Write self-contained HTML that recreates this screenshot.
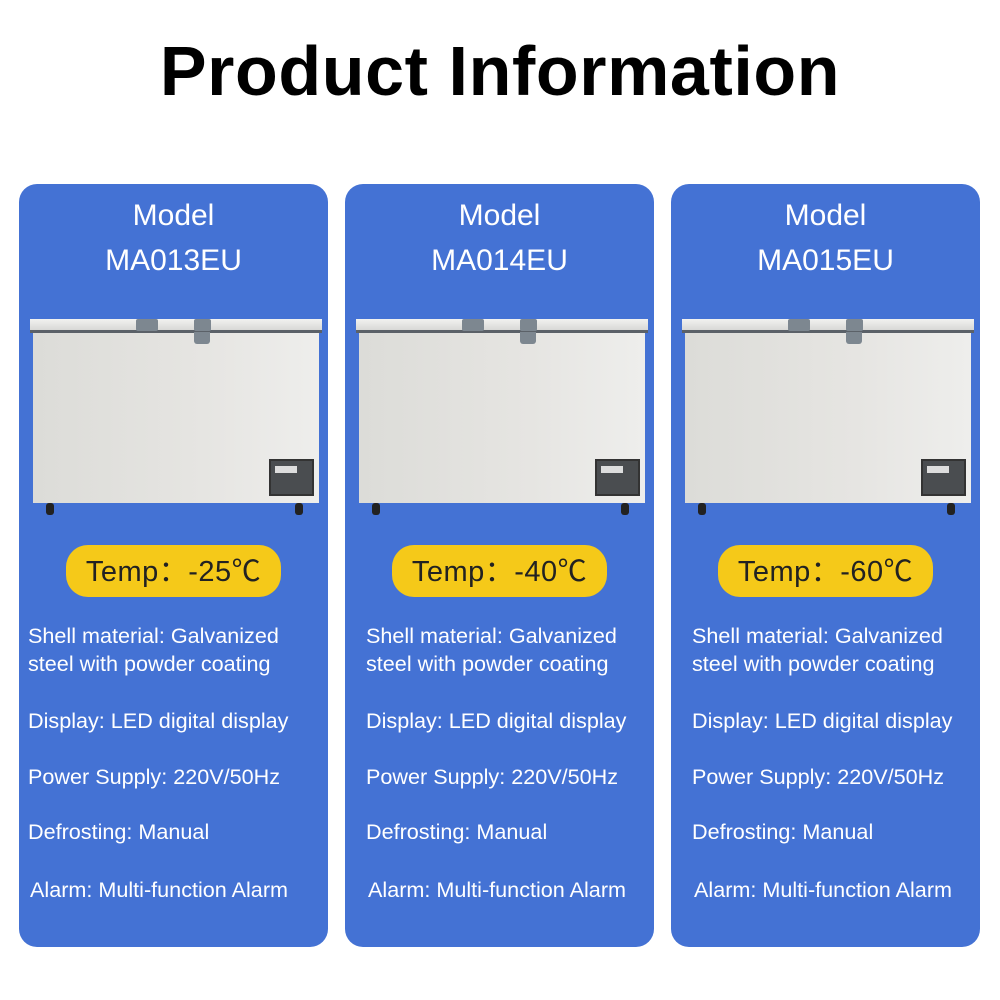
<!DOCTYPE html>
<html><head><style>
body{margin:0;width:1000px;height:1000px;background:#fff;font-family:"Liberation Sans",Arial,sans-serif;position:relative;overflow:hidden}
h1{position:absolute;top:31px;left:0;width:1000px;text-align:center;margin:0;font-size:70px;font-weight:bold;color:#000;letter-spacing:0.6px}
.p{position:absolute;top:184px;width:309px;height:763px;background:#4472d4;border-radius:18px;color:#fff}
.t{position:absolute;width:100%;text-align:center;font-size:30px}
.fz{position:absolute;left:11px;top:135px;width:292px;height:196px}
.lid{position:absolute;left:0;top:0;width:292px;height:14px;background:linear-gradient(#f2f2f0,#d8d8d6);border-bottom:3px solid #5b6168;box-sizing:border-box}
.body{position:absolute;left:3px;top:14px;width:286px;height:170px;background:linear-gradient(90deg,#dcdcd8,#e6e5e2 60%,#eeeeec)}
.h{position:absolute;top:0;height:12px;background:#7d8790;border-radius:2px}
.lock{position:absolute;left:164px;top:13px;width:16px;height:12px;background:#7d8790;border-radius:0 0 3px 3px}
.cp{position:absolute;left:239px;top:140px;width:41px;height:33px;background:#4a4d50;border:2px solid #333}
.cp i{position:absolute;left:4px;top:5px;width:22px;height:7px;background:#ddd}
.w{position:absolute;top:184px;width:8px;height:12px;background:#222;border-radius:3px}
.b{position:absolute;left:47px;top:361px;width:215px;height:52px;background:#f5c919;border-radius:22px;color:#222;font-size:29px;text-align:center;line-height:54px;font-family:"Liberation Sans","Noto Sans CJK SC",sans-serif;letter-spacing:0.5px}
.s{position:absolute;font-size:21.6px;line-height:28px;white-space:nowrap}
</style></head><body>
<h1>Product Information</h1>

<div class="p" style="left:19px">
<div class="t" style="top:15px">Model</div><div class="t" style="top:60px">MA013EU</div>
<div class="fz"><div class="lid"></div><div class="body"></div><div class="h" style="left:106px;width:22px"></div><div class="h" style="left:164px;width:17px"></div><div class="lock"></div><div class="cp"><i></i></div><div class="w" style="left:16px"></div><div class="w" style="left:265px"></div></div>
<div class="b">Temp：-25℃</div>
<div class="s" style="left:9px;top:438px">Shell material: Galvanized<br>steel with powder coating</div>
<div class="s" style="left:9px;top:523px">Display: LED digital display</div>
<div class="s" style="left:9px;top:579px">Power Supply: 220V/50Hz</div>
<div class="s" style="left:9px;top:634px">Defrosting: Manual</div>
<div class="s" style="left:11px;top:692px">Alarm: Multi-function Alarm</div>
</div>

<div class="p" style="left:345px">
<div class="t" style="top:15px">Model</div><div class="t" style="top:60px">MA014EU</div>
<div class="fz"><div class="lid"></div><div class="body"></div><div class="h" style="left:106px;width:22px"></div><div class="h" style="left:164px;width:17px"></div><div class="lock"></div><div class="cp"><i></i></div><div class="w" style="left:16px"></div><div class="w" style="left:265px"></div></div>
<div class="b">Temp：-40℃</div>
<div class="s" style="left:21px;top:438px">Shell material: Galvanized<br>steel with powder coating</div>
<div class="s" style="left:21px;top:523px">Display: LED digital display</div>
<div class="s" style="left:21px;top:579px">Power Supply: 220V/50Hz</div>
<div class="s" style="left:21px;top:634px">Defrosting: Manual</div>
<div class="s" style="left:23px;top:692px">Alarm: Multi-function Alarm</div>
</div>

<div class="p" style="left:671px">
<div class="t" style="top:15px">Model</div><div class="t" style="top:60px">MA015EU</div>
<div class="fz"><div class="lid"></div><div class="body"></div><div class="h" style="left:106px;width:22px"></div><div class="h" style="left:164px;width:17px"></div><div class="lock"></div><div class="cp"><i></i></div><div class="w" style="left:16px"></div><div class="w" style="left:265px"></div></div>
<div class="b">Temp：-60℃</div>
<div class="s" style="left:21px;top:438px">Shell material: Galvanized<br>steel with powder coating</div>
<div class="s" style="left:21px;top:523px">Display: LED digital display</div>
<div class="s" style="left:21px;top:579px">Power Supply: 220V/50Hz</div>
<div class="s" style="left:21px;top:634px">Defrosting: Manual</div>
<div class="s" style="left:23px;top:692px">Alarm: Multi-function Alarm</div>
</div>
</body></html>
